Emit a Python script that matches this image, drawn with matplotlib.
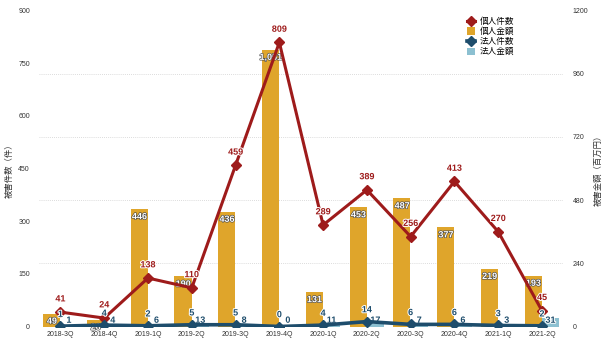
import numpy as np
import matplotlib.pyplot as plt
import matplotlib.patheffects as pe

plt.rcParams['font.family'] = ['Liberation Sans', 'Noto Sans CJK JP']

# 四半期ごとの被害状況
quarters = ['2018-3Q', '2018-4Q', '2019-1Q', '2019-2Q', '2019-3Q', '2019-4Q',
            '2020-1Q', '2020-2Q', '2020-3Q', '2020-4Q', '2021-1Q', '2021-2Q']
kojin_count = [41, 24, 138, 110, 459, 809, 289, 389, 256, 413, 270, 45]
kojin_amount = [49, 26, 446, 190, 436, 1051, 131, 453, 487, 377, 219, 193]
houjin_count = [1, 4, 2, 5, 5, 0, 4, 14, 6, 6, 3, 2]
houjin_amount = [1, 4, 6, 13, 8, 0, 11, 17, 7, 6, 3, 31]

c_red = '#9E1B1B'
c_gold = '#DFA52B'
c_navy = '#1E4D6C'
c_sky = '#8CC0D1'

fig = plt.figure(figsize=(6.1, 3.43), dpi=100)
ax = fig.add_axes([39/610, 16.5/343, 524/610, 316/343])
ax2 = ax.twinx()

x = np.arange(len(quarters))
w = 0.39

# 棒グラフ（右軸：金額）
ax2.bar(x - w/2 - 0.005, kojin_amount, w, color=c_gold, zorder=2, label='個人金額')
ax2.bar(x + w/2 + 0.005, houjin_amount, w, color=c_sky, zorder=2, label='法人金額')
ax2.set_ylim(0, 1200)
ax2.set_yticks(np.arange(0, 1201, 240))
ax2.set_axisbelow(True)
ax2.grid(axis='y', color='#d0d0d0', linestyle=(0, (1, 1.5)), linewidth=0.6)

white_txt = [pe.withStroke(linewidth=0.9, foreground='#4a4a4a')]
for xi, v in zip(x, kojin_amount):
    ax2.annotate(f'{v:,}', (xi - w/2, v), xytext=(0, -5.5), textcoords='offset points',
                 ha='center', va='center', fontsize=6.5, fontweight='bold',
                 color='white', path_effects=white_txt, zorder=3)

navy_txt = [pe.withStroke(linewidth=1.4, foreground='white')]
for xi, v in zip(x, houjin_amount):
    ax2.annotate(f'{v}', (xi + w/2, 0), xytext=(0, 4.5), textcoords='offset points',
                 ha='center', va='center', fontsize=6.5, fontweight='bold',
                 color=c_navy, path_effects=navy_txt, zorder=3)

# 折れ線（左軸：件数）
ax.set_zorder(ax2.get_zorder() + 1)
ax.patch.set_visible(False)
ax.plot(x, kojin_count, color=c_red, lw=2.2, marker='D', ms=5.5, zorder=4, label='個人件数')
ax.plot(x, houjin_count, color=c_navy, lw=2.6, marker='D', ms=5.5, zorder=4, label='法人件数')
ax.set_ylim(0, 900)
ax.set_yticks(np.arange(0, 901, 150))
ax.set_xlim(-0.49, 11.48)

for xi, v in zip(x, kojin_count):
    ax.annotate(f'{v}', (xi, v), xytext=(0, 9.5), textcoords='offset points',
                ha='center', va='center', fontsize=6.5, fontweight='bold',
                color=c_red, path_effects=navy_txt, zorder=5)
for xi, v in zip(x, houjin_count):
    ax.annotate(f'{v}', (xi, v), xytext=(0, 8.5), textcoords='offset points',
                ha='center', va='center', fontsize=6.5, fontweight='bold',
                color=c_navy, path_effects=navy_txt, zorder=5)

ax.set_xticks(x)
ax.set_xticklabels(quarters)
for a in (ax, ax2):
    for s in a.spines.values():
        s.set_visible(False)
ax.tick_params(axis='x', length=0, pad=3.5, labelsize=5, labelcolor='#333333')
ax.tick_params(axis='y', length=0, pad=6.5, labelsize=5, labelcolor='#333333')
ax2.tick_params(axis='y', length=0, pad=7, labelsize=5, labelcolor='#333333')

ax.set_ylabel('被害件数（件）', fontsize=6, color='#333333', labelpad=3)
ax2.set_ylabel('被害金額（百万円）', fontsize=6, color='#333333', rotation=90, labelpad=4)

# 凡例
h1, l1 = ax.get_legend_handles_labels()
h2, l2 = ax2.get_legend_handles_labels()
handles = [h1[0], h2[0], h1[1], h2[1]]
labels = [l1[0], l2[0], l1[1], l2[1]]
ax.legend(handles, labels, loc='upper left', bbox_to_anchor=(467/610, 1 - 17/343),
          bbox_transform=fig.transFigure, frameon=False, fontsize=6.2,
          handlelength=0.9, handleheight=0.9, handletextpad=0.6, markerscale=0.85,
          labelspacing=0.12, borderpad=0, borderaxespad=0)

fig.savefig('out.png', dpi=100)
